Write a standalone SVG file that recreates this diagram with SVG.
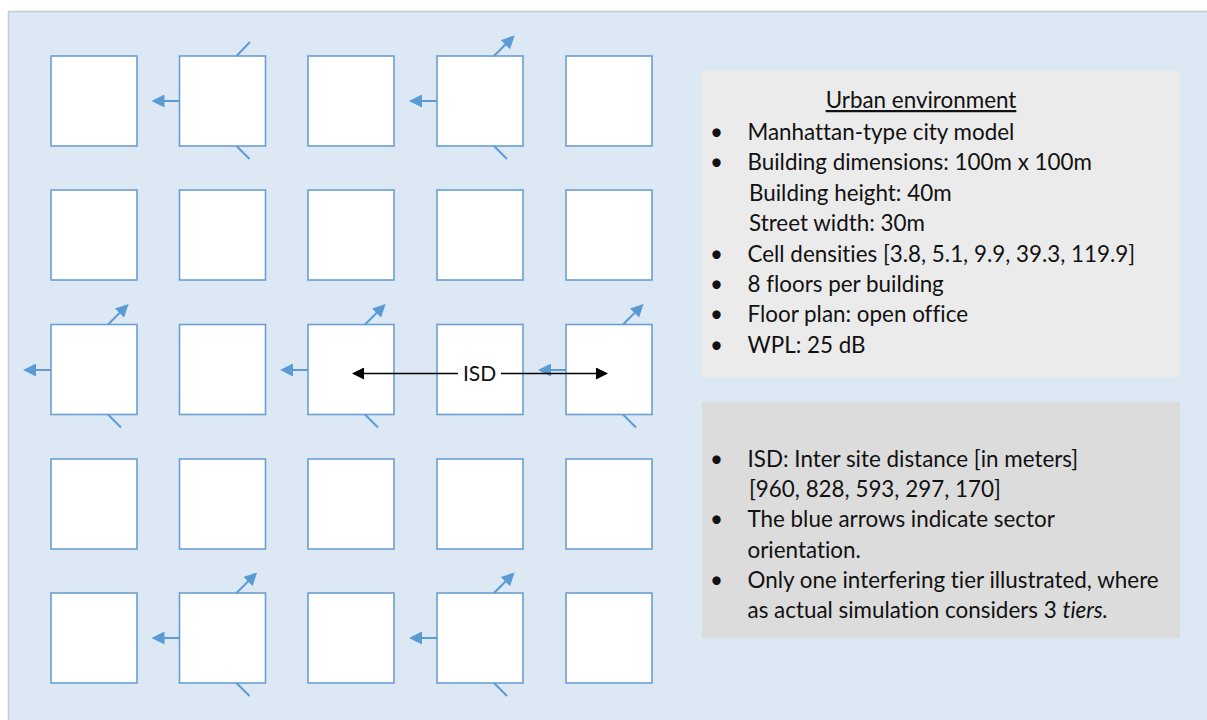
<svg xmlns="http://www.w3.org/2000/svg" width="1207" height="720" viewBox="0 0 1207 720">
  <defs>
    <style>
      .panel { fill: #dde8f5; stroke: #c9c9c9; stroke-width: 1.5; }
      .bldg { fill: #ffffff; stroke: #6b9fd3; stroke-width: 1.6; }
      .sector { fill: none; stroke: #5b9bd5; stroke-width: 2; }
      .isd { fill: none; stroke: #000000; stroke-width: 1.4; }
      .txt { font-family: Lato, "Open Sans", "Liberation Sans", sans-serif; font-size: 22.4px; fill: #111111; font-variant-ligatures: none; }
      .lbl { font-size: 21px; }
      .note1 { fill: #ebebeb; }
      .note2 { fill: #dcdcdc; }
    </style>
    <marker id="blueHead" viewBox="0 0 13 13" markerWidth="13" markerHeight="13" refX="10" refY="6.5" orient="auto" markerUnits="userSpaceOnUse">
      <path d="M0,0 L13,6.5 L0,13 Z" fill="#5b9bd5"/>
    </marker>
    <marker id="blackHead" viewBox="0 0 12 12" markerWidth="12" markerHeight="12" refX="10" refY="6" orient="auto" markerUnits="userSpaceOnUse">
      <path d="M0,0 L12,6 L0,12 Z" fill="#000000"/>
    </marker>
  </defs>

  <!-- background panel -->
  <rect class="panel" x="8.5" y="11.5" width="1205" height="715"/>

  <!-- building grid: 5 x 5 blocks -->
  <g id="buildings">
    <g id="b-r1c1"><rect class="bldg" x="51" y="56" width="86" height="90"/></g>
    <g id="b-r1c2"><rect class="bldg" x="179.5" y="56" width="86" height="90"/></g>
    <g id="b-r1c3"><rect class="bldg" x="308" y="56" width="86" height="90"/></g>
    <g id="b-r1c4"><rect class="bldg" x="437" y="56" width="86" height="90"/></g>
    <g id="b-r1c5"><rect class="bldg" x="566" y="56" width="86" height="90"/></g>

    <g id="b-r2c1"><rect class="bldg" x="51" y="190" width="86" height="90"/></g>
    <g id="b-r2c2"><rect class="bldg" x="179.5" y="190" width="86" height="90"/></g>
    <g id="b-r2c3"><rect class="bldg" x="308" y="190" width="86" height="90"/></g>
    <g id="b-r2c4"><rect class="bldg" x="437" y="190" width="86" height="90"/></g>
    <g id="b-r2c5"><rect class="bldg" x="566" y="190" width="86" height="90"/></g>

    <g id="b-r3c1"><rect class="bldg" x="51" y="324.5" width="86" height="90"/></g>
    <g id="b-r3c2"><rect class="bldg" x="179.5" y="324.5" width="86" height="90"/></g>
    <g id="b-r3c3"><rect class="bldg" x="308" y="324.5" width="86" height="90"/></g>
    <g id="b-r3c4"><rect class="bldg" x="437" y="324.5" width="86" height="90"/></g>
    <g id="b-r3c5"><rect class="bldg" x="566" y="324.5" width="86" height="90"/></g>

    <g id="b-r4c1"><rect class="bldg" x="51" y="459" width="86" height="90"/></g>
    <g id="b-r4c2"><rect class="bldg" x="179.5" y="459" width="86" height="90"/></g>
    <g id="b-r4c3"><rect class="bldg" x="308" y="459" width="86" height="90"/></g>
    <g id="b-r4c4"><rect class="bldg" x="437" y="459" width="86" height="90"/></g>
    <g id="b-r4c5"><rect class="bldg" x="566" y="459" width="86" height="90"/></g>

    <g id="b-r5c1"><rect class="bldg" x="51" y="593" width="86" height="90"/></g>
    <g id="b-r5c2"><rect class="bldg" x="179.5" y="593" width="86" height="90"/></g>
    <g id="b-r5c3"><rect class="bldg" x="308" y="593" width="86" height="90"/></g>
    <g id="b-r5c4"><rect class="bldg" x="437" y="593" width="86" height="90"/></g>
    <g id="b-r5c5"><rect class="bldg" x="566" y="593" width="86" height="90"/></g>
  </g>

  <!-- sector orientation arrows at each site -->
  <g id="connectors">
    <!-- site r1c2 -->
    <line class="sector" x1="179.5" y1="101" x2="154.5" y2="101" marker-end="url(#blueHead)"/>
    <line class="sector" x1="236.5" y1="56" x2="250" y2="42"/>
    <line class="sector" x1="236.5" y1="146" x2="249.5" y2="159"/>
    <!-- site r1c4 -->
    <line class="sector" x1="437" y1="101" x2="412" y2="101" marker-end="url(#blueHead)"/>
    <line class="sector" x1="494" y1="56" x2="512.5" y2="37.5" marker-end="url(#blueHead)"/>
    <line class="sector" x1="494" y1="146" x2="507" y2="159"/>
    <!-- site r3c1 -->
    <line class="sector" x1="51" y1="370" x2="26" y2="370" marker-end="url(#blueHead)"/>
    <line class="sector" x1="108" y1="324.5" x2="126.5" y2="306" marker-end="url(#blueHead)"/>
    <line class="sector" x1="108" y1="414.5" x2="121" y2="427.5"/>
    <!-- site r3c3 -->
    <line class="sector" x1="308" y1="370" x2="283" y2="370" marker-end="url(#blueHead)"/>
    <line class="sector" x1="365" y1="324.5" x2="383.5" y2="306" marker-end="url(#blueHead)"/>
    <line class="sector" x1="365" y1="414.5" x2="378" y2="427.5"/>
    <!-- site r3c5 -->
    <line class="sector" x1="566" y1="370" x2="541" y2="370" marker-end="url(#blueHead)"/>
    <line class="sector" x1="623" y1="324.5" x2="641.5" y2="306" marker-end="url(#blueHead)"/>
    <line class="sector" x1="623" y1="414.5" x2="636" y2="427.5"/>
    <!-- site r5c2 -->
    <line class="sector" x1="179.5" y1="638" x2="154.5" y2="638" marker-end="url(#blueHead)"/>
    <line class="sector" x1="236.5" y1="593" x2="255" y2="574.5" marker-end="url(#blueHead)"/>
    <line class="sector" x1="236.5" y1="683" x2="249.5" y2="696"/>
    <!-- site r5c4 -->
    <line class="sector" x1="437" y1="638" x2="412" y2="638" marker-end="url(#blueHead)"/>
    <line class="sector" x1="494" y1="593" x2="512.5" y2="574.5" marker-end="url(#blueHead)"/>
    <line class="sector" x1="494" y1="683" x2="507" y2="696"/>

    <!-- inter-site distance dimension -->
    <line class="isd" x1="458" y1="373.5" x2="354" y2="373.5" marker-end="url(#blackHead)"/>
    <line class="isd" x1="501" y1="373.5" x2="606" y2="373.5" marker-end="url(#blackHead)"/>
    <text class="txt lbl" x="479.5" y="381" text-anchor="middle">ISD</text>
  </g>

  <!-- environment description -->
  <g id="note-urban">
    <rect class="note1" x="702" y="71" width="478" height="306"/>
    <text class="txt" x="921" y="108" text-anchor="middle" text-decoration="underline">Urban environment</text>
    <g class="txt">
      <text x="710" y="140">•</text><text x="747.5" y="140">Manhattan-type city model</text>
      <text x="710" y="170">•</text><text x="747.5" y="170">Building dimensions: 100m x 100m</text>
      <text x="749" y="200.5">Building height: 40m</text>
      <text x="749" y="230.5">Street width: 30m</text>
      <text x="710" y="261.5">•</text><text x="747.5" y="261.5">Cell densities [3.8, 5.1, 9.9, 39.3, 119.9]</text>
      <text x="710" y="291.5">•</text><text x="747.5" y="291.5">8 floors per building</text>
      <text x="710" y="322">•</text><text x="747.5" y="322">Floor plan: open office</text>
      <text x="710" y="352.5">•</text><text x="747.5" y="352.5">WPL: 25 dB</text>
    </g>
  </g>

  <g id="note-isd">
    <rect class="note2" x="702" y="402" width="478" height="236"/>
    <g class="txt">
      <text x="710" y="466.5">•</text><text x="747.5" y="466.5">ISD: Inter site distance [in meters]</text>
      <text x="749" y="496.5">[960, 828, 593, 297, 170]</text>
      <text x="710" y="527">•</text><text x="747.5" y="527">The blue arrows indicate sector</text>
      <text x="747.5" y="558">orientation.</text>
      <text x="710" y="588">•</text><text x="747.5" y="588">Only one interfering tier illustrated, where</text>
      <text x="747.5" y="618">as actual simulation considers 3 <tspan font-style="italic">tiers.</tspan></text>
    </g>
  </g>
</svg>
